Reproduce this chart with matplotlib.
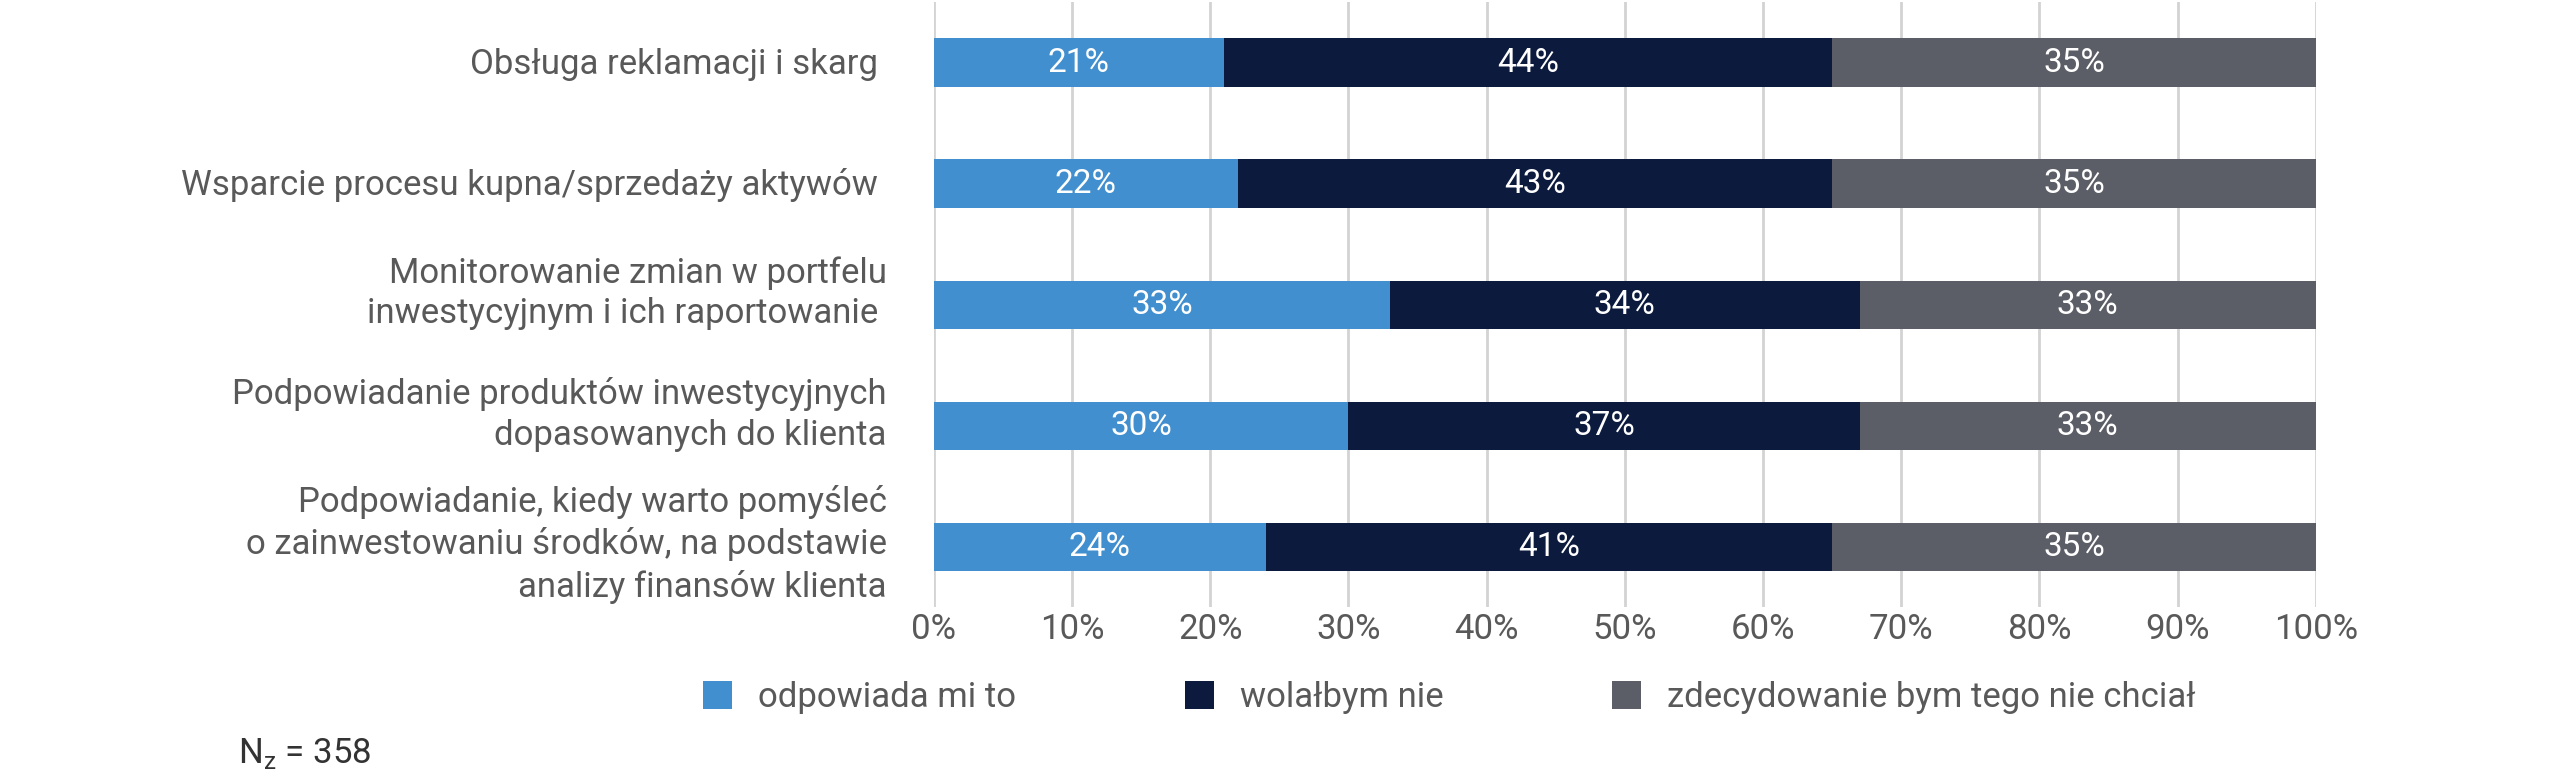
import matplotlib
matplotlib.use("Agg")
import matplotlib.pyplot as plt
import matplotlib.transforms as mtransforms
from matplotlib.ticker import PercentFormatter
from matplotlib.patches import Patch

plt.rcParams['font.family'] = ['Roboto', 'DejaVu Sans']

# dane
categories = [
    "Obsługa reklamacji i skarg ",
    "Wsparcie procesu kupna/sprzedaży aktywów ",
    "Monitorowanie zmian w portfelu\ninwestycyjnym i ich raportowanie ",
    "Podpowiadanie produktów inwestycyjnych\ndopasowanych do klienta",
    "Podpowiadanie, kiedy warto pomyśleć\no zainwestowaniu środków, na podstawie\nanalizy finansów klienta",
]
odpowiada = [21, 22, 33, 30, 24]
wolalbym = [44, 43, 34, 37, 41]
zdecydowanie = [35, 35, 33, 33, 35]
series_names = ["odpowiada mi to", "wolałbym nie", "zdecydowanie bym tego nie chciał"]
colors = ["#418FCF", "#0C1A3E", "#5B5E66"]
x_ticks = [0, 10, 20, 30, 40, 50, 60, 70, 80, 90, 100]
note = r"N$_{\mathregular{z}}$ = 358"

text_color = "#595959"

fig = plt.figure(figsize=(25.6, 7.81), dpi=100)
ax = fig.add_axes([0.3648, 0.2222, 0.5398, 0.7752])

y = list(range(len(categories)))
left = [0] * len(categories)
for vals, name, col in zip([odpowiada, wolalbym, zdecydowanie], series_names, colors):
    bars = ax.barh(y, vals, left=left, height=0.4, color=col, label=name, zorder=2)
    ax.bar_label(bars, labels=[f"{v}%" for v in vals], label_type='center',
                 color='white', fontsize=24)
    left = [l + v for l, v in zip(left, vals)]

ax.set_xlim(0, 100)
ax.set_ylim(len(categories) - 0.5, -0.5)
ax.set_xticks(x_ticks)
ax.xaxis.set_major_formatter(PercentFormatter(decimals=0))
ax.set_yticks(y)
ax.set_yticklabels(categories)
ax.tick_params(axis='x', length=0, pad=4, labelsize=25, labelcolor=text_color)
ax.tick_params(axis='y', length=0, pad=34, labelsize=25, labelcolor=text_color)
ax.xaxis.grid(True, color="#D3D3D3", linewidth=2)
ax.set_axisbelow(True)
for s in ax.spines.values():
    s.set_visible(False)

# etykiety wielowierszowe sa w oryginale troche wyzej
shift_px = {1: 2, 2: 19, 3: 10}
for lab in ax.get_yticklabels():
    n = lab.get_text().count("\n") + 1
    lab.set_linespacing(1.3)
    off = mtransforms.ScaledTranslation(0, shift_px[n] / 100, fig.dpi_scale_trans)
    lab.set_transform(lab.get_transform() + off)

handles = [Patch(facecolor=c, label=n) for c, n in zip(colors, series_names)]
fig.legend(handles=handles, loc='center left', bbox_to_anchor=(0.2746, 0.1069),
           ncol=3, frameon=False, fontsize=25, labelcolor=text_color,
           handlelength=0.84, handleheight=0.84, handletextpad=0.75,
           columnspacing=4.85, borderpad=0, borderaxespad=0)

fig.text(0.093, 1 - 763 / 781, note, fontsize=25, color="#333333", va='baseline')

fig.savefig("out.png", dpi=100)
